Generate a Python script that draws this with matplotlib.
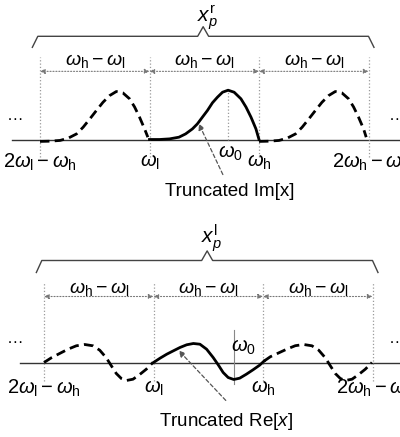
import numpy as np
import matplotlib
matplotlib.use("Agg")
import matplotlib.pyplot as plt

plt.rcParams['font.family'] = ['Liberation Sans', 'DejaVu Sans']
plt.rcParams['mathtext.fontset'] = 'custom'
plt.rcParams['mathtext.rm'] = 'Liberation Sans'
plt.rcParams['mathtext.it'] = 'Liberation Sans:italic'
plt.rcParams['mathtext.bf'] = 'Liberation Sans:bold'

# band edges: 2wl-wh, wl, wh, 2wh-wl (in units of the band width)
edges = [0.0, 1.0, 2.0, 3.0]
edge_labels = [r'$2\omega_\mathrm{l}-\omega_\mathrm{h}$', r'$\omega_\mathrm{l}$',
               r'$\omega_\mathrm{h}$', r'$2\omega_\mathrm{h}-\omega_\mathrm{l}$']
band_label = r'$\omega_\mathrm{h}-\omega_\mathrm{l}$'

# top panel: truncated Im[x] and its shifted copies
w0_top = 1.714
im_x = [1.000, 1.092, 1.183, 1.269, 1.330, 1.392, 1.437, 1.483, 1.529, 1.575,
        1.621, 1.667, 1.718, 1.773, 1.835, 1.881, 1.927, 1.972, 2.000]
im_y = [0.000, 0.000, 0.013, 0.048, 0.117, 0.221, 0.325, 0.465, 0.604, 0.765,
        0.883, 0.985, 1.027, 0.985, 0.848, 0.677, 0.465, 0.221, 0.000]
im_left_x = [0.000, 0.091, 0.182, 0.257, 0.334, 0.394, 0.455, 0.515, 0.575,
             0.636, 0.697, 0.757, 0.818, 0.864, 0.909, 0.955, 0.985]
im_left_y = [-0.040, -0.035, -0.020, 0.027, 0.117, 0.256, 0.429, 0.604, 0.775,
             0.915, 1.000, 0.971, 0.848, 0.677, 0.465, 0.221, 0.048]
im_right_x = [2.000, 2.091, 2.182, 2.257, 2.334, 2.394, 2.455, 2.515, 2.575,
              2.636, 2.697, 2.757, 2.818, 2.864, 2.909, 2.955, 2.979]
im_right_y = [-0.040, -0.035, -0.020, 0.027, 0.117, 0.256, 0.429, 0.604, 0.775,
              0.915, 1.000, 0.971, 0.848, 0.677, 0.465, 0.221, 0.048]

# bottom panel: truncated Re[x] and its shifted copies
w0_bot = 1.733
re_x = [1.000, 1.060, 1.121, 1.182, 1.242, 1.303, 1.364, 1.424, 1.485, 1.545,
        1.591, 1.636, 1.682, 1.733, 1.787, 1.848, 1.909, 1.969, 2.010]
re_y = [0.000, 0.090, 0.173, 0.244, 0.313, 0.369, 0.396, 0.381, 0.277, 0.104,
        -0.048, -0.208, -0.313, -0.354, -0.327, -0.244, -0.152, -0.056, 0.030]
re_left_x = [0.000, 0.067, 0.143, 0.219, 0.295, 0.372, 0.447, 0.509, 0.569,
             0.615, 0.660, 0.706, 0.752, 0.813, 0.874, 0.934, 0.995]
re_left_y = [0.000, 0.098, 0.188, 0.277, 0.348, 0.375, 0.348, 0.256, 0.098,
             -0.069, -0.229, -0.333, -0.375, -0.348, -0.250, -0.140, 0.000]
re_right_x = [2.010, 2.067, 2.143, 2.219, 2.295, 2.372, 2.447, 2.509, 2.569,
              2.615, 2.660, 2.706, 2.752, 2.813, 2.874, 2.934, 2.995]
re_right_y = [0.030, 0.120, 0.200, 0.280, 0.350, 0.375, 0.348, 0.256, 0.098,
              -0.069, -0.229, -0.333, -0.375, -0.348, -0.250, -0.140, 0.000]

W, H = 400, 437
SX, SY = 109.5, 48.0   # pixels per unit
fig = plt.figure(figsize=(W / 100, H / 100), dpi=100)

DOT = '#9a9a9a'
DASH = (0, (3.4, 1.9))


def panel(top_px, bot_px, x0_px, base_px):
    ax = fig.add_axes([0, 1 - bot_px / H, 1, (bot_px - top_px) / H])
    ax.set_xlim(-x0_px / SX, (W - x0_px) / SX)
    ax.set_ylim(-(bot_px - base_px) / SY, (base_px - top_px) / SY)
    ax.axis('off')
    return ax


def frame(ax, lab_y, arr_y, vtop, vbot, brace_y, brace_h, tick_y, base_left):
    x0, x1 = ax.get_xlim()
    ax.plot([base_left, x1], [0, 0], color='#333333', lw=1.0)
    for e in edges:
        ax.plot([e, e], [vbot, vtop], color=DOT, lw=0.9, ls=':')
    for a, b in zip(edges[:-1], edges[1:]):
        ax.annotate('', xy=(a, arr_y), xytext=(b, arr_y),
                    arrowprops=dict(arrowstyle='<|-|>', color='#777777', lw=0.8,
                                    ls=':', mutation_scale=7, shrinkA=0, shrinkB=0))
        ax.text((a + b) / 2, lab_y, band_label, ha='center', va='center', fontsize=14)
    for e, lab in zip(edges, edge_labels):
        ax.text(e, tick_y, lab, ha='center', va='center', fontsize=14.5)
    # brace
    bl, br = edges[0] - 0.07, edges[-1] + 0.05
    mid = (bl + br) / 2
    bx = [bl, bl + 0.05, mid - 0.05, mid, mid + 0.05, br - 0.05, br]
    by = [brace_y - brace_h, brace_y, brace_y, brace_y + 0.2, brace_y, brace_y, brace_y - brace_h]
    ax.plot(bx, by, color='#444444', lw=1.0, solid_joinstyle='round')
    ax.text(x0 + 15 / SX, 0.5, '\u2026', ha='center', va='center', fontsize=12)
    ax.text(x1 - 3 / SX, 0.5, '\u2026', ha='center', va='center', fontsize=12)
    return mid


# ---- top panel ----
ax1 = panel(0, 215, 40, 139.5)
mid = frame(ax1, lab_y=1.63, arr_y=1.42, vtop=1.71, vbot=-0.36,
            brace_y=2.15, brace_h=0.23, tick_y=-0.47, base_left=-0.26)
ax1.plot([w0_top, w0_top], [0, 1.03], color=DOT, lw=0.9, ls=':')
ax1.plot(im_left_x, im_left_y, color='black', lw=2.0, ls=DASH)
ax1.plot(im_right_x, im_right_y, color='black', lw=2.0, ls=DASH)
ax1.plot(im_x, im_y, color='black', lw=2.0, solid_joinstyle='round')
ax1.text(mid + 0.04, 2.55, r'$x_p^\mathrm{r}$', ha='center', va='center', fontsize=15)
ax1.text(1.74, -0.28, r'$\omega_0$', ha='center', va='center', fontsize=14.5)
ax1.text(1.73, -1.09, 'Truncated Im[x]', ha='center', va='center', fontsize=13.5)
ax1.annotate('', xy=(1.45, 0.33), xytext=(1.67, -0.73),
             arrowprops=dict(arrowstyle='-|>', color='#555555', lw=0.9, ls=(0, (3, 2)),
                             mutation_scale=9, shrinkA=0, shrinkB=0))

# ---- bottom panel ----
ax2 = panel(215, 437, 44, 362.5)
mid = frame(ax2, lab_y=1.54, arr_y=1.375, vtop=1.65, vbot=-0.375,
            brace_y=2.125, brace_h=0.25, tick_y=-0.53, base_left=-0.22)
ax2.plot([w0_bot, w0_bot], [-0.44, 0.67], color='#888888', lw=0.8)
ax2.plot(re_left_x, re_left_y, color='black', lw=2.0, ls=DASH)
ax2.plot(re_right_x, re_right_y, color='black', lw=2.0, ls=DASH)
ax2.plot(re_x, re_y, color='black', lw=2.0, solid_joinstyle='round')
ax2.text(mid + 0.04, 2.6, r'$x_p^\mathrm{l}$', ha='center', va='center', fontsize=15)
ax2.text(1.82, 0.32, r'$\omega_0$', ha='center', va='center', fontsize=14.5)
ax2.text(1.66, -1.22, r'Truncated Re[$x$]', ha='center', va='center', fontsize=13.5)
ax2.annotate('', xy=(1.23, 0.25), xytext=(1.66, -0.79),
             arrowprops=dict(arrowstyle='-|>', color='#555555', lw=0.9, ls=(0, (3, 2)),
                             mutation_scale=9, shrinkA=0, shrinkB=0))

fig.savefig('out.png', dpi=100)
